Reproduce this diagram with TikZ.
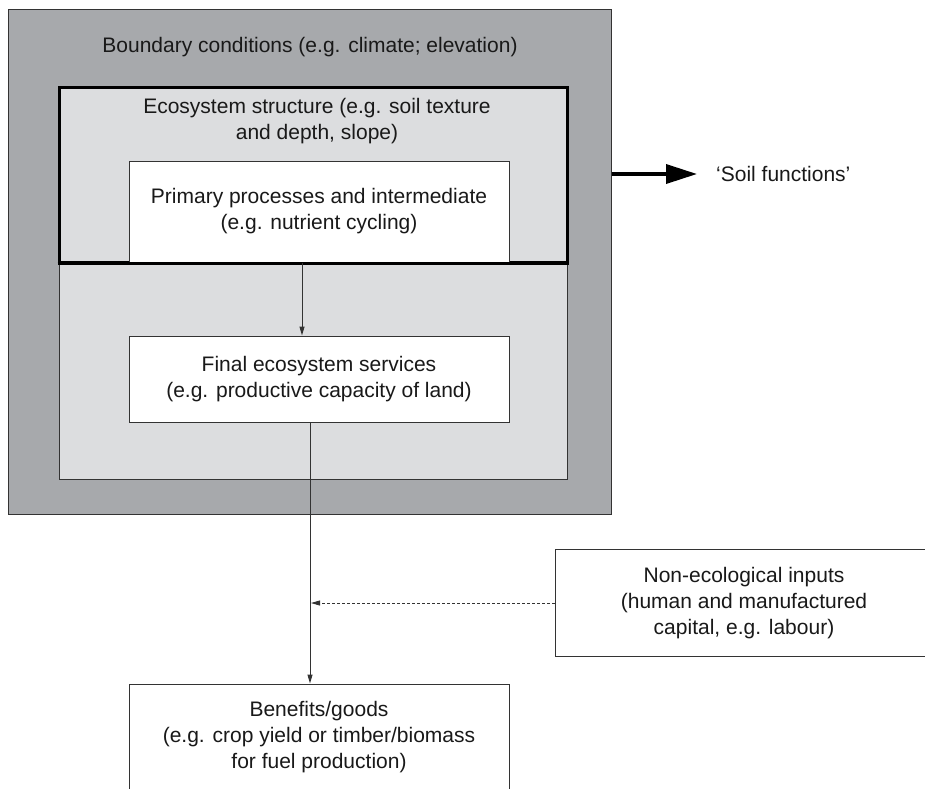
\documentclass[tikz,border=0pt]{standalone}
\usepackage{fontspec}
\setmainfont{Liberation Sans}
\usetikzlibrary{arrows.meta}
\definecolor{outergrey}{HTML}{A7A9AC}
\definecolor{innergrey}{HTML}{DCDDDF}
\definecolor{edge}{HTML}{333333}
\tikzset{
  txt/.style={font=\fontsize{21}{26}\selectfont, align=center, text=black!90},
  box/.style={draw=edge, line width=1pt, fill=white, inner sep=0pt, txt},
  arr/.style={draw=edge, line width=1pt, -{Triangle[length=9pt,width=5pt]}},
}
\begin{document}
\begin{tikzpicture}[x=1pt,y=-1pt]
\useasboundingbox (0,0) rectangle (925,788);
% outer boundary box
\node[draw=edge, line width=1pt, fill=outergrey, minimum width=603pt, minimum height=505pt, inner sep=0pt] (outer) at (309.5,261.5) {};
\node[txt] (bcond) at (310,47) {Boundary conditions (e.g. climate; elevation)};
% light grey region
\node[draw=edge, line width=1pt, fill=innergrey, minimum width=508pt, minimum height=392pt, inner sep=0pt] (light) at (313,283) {};
% thick ecosystem structure box
\node[draw=black, line width=3pt, minimum width=508pt, minimum height=175pt, inner sep=0pt] (eco) at (313,174.5) {};
\node[txt] (ecotxt) at (317,121) {Ecosystem structure (e.g. soil texture\\and depth, slope)};
% primary processes
\node[box, minimum width=380pt, minimum height=101pt] (prim) at (319,211.5) {Primary processes and intermediate\\(e.g. nutrient cycling)};
\draw[black, line width=3pt] (eco.south west) -- (eco.south east);
% final ecosystem services
\node[box, minimum width=380pt, minimum height=86pt] (final) at (319,379) {Final ecosystem services\\(e.g. productive capacity of land)};
% benefits
\node[box, minimum width=380pt, minimum height=130pt] (ben) at (319,749) {};
\node[txt] (bentxt) at (319,737) {Benefits/goods\\(e.g. crop yield or timber/biomass\\for fuel production)};
% non-ecological inputs
\node[box, minimum width=385pt, minimum height=107pt] (noneco) at (747.5,602.5) {};
\node[txt] (nonecotxt) at (744,603) {Non-ecological inputs\\(human and manufactured\\capital, e.g. labour)};
% soil functions
\node[txt, anchor=west, inner xsep=19pt, inner ysep=0pt] (soil) at (697,174) {‘Soil functions’};
% connectors
\coordinate (xa) at (302,0);
\coordinate (j) at (310,603);
\draw[arr] (prim.south -| xa) -- (final.north -| xa);
\draw[arr] (final.south -| j) -- (ben.north -| j);
\draw[draw=edge, line width=0.9pt, dash pattern=on 3pt off 2pt, -{Triangle[length=9pt,width=5pt]}] (noneco.west |- j) -- ([xshift=1pt]j);
\draw[black, line width=3.5pt, -{Triangle[length=31pt,width=19pt]}] (outer.east |- soil.west) -- (soil.west);
\end{tikzpicture}
\end{document}
